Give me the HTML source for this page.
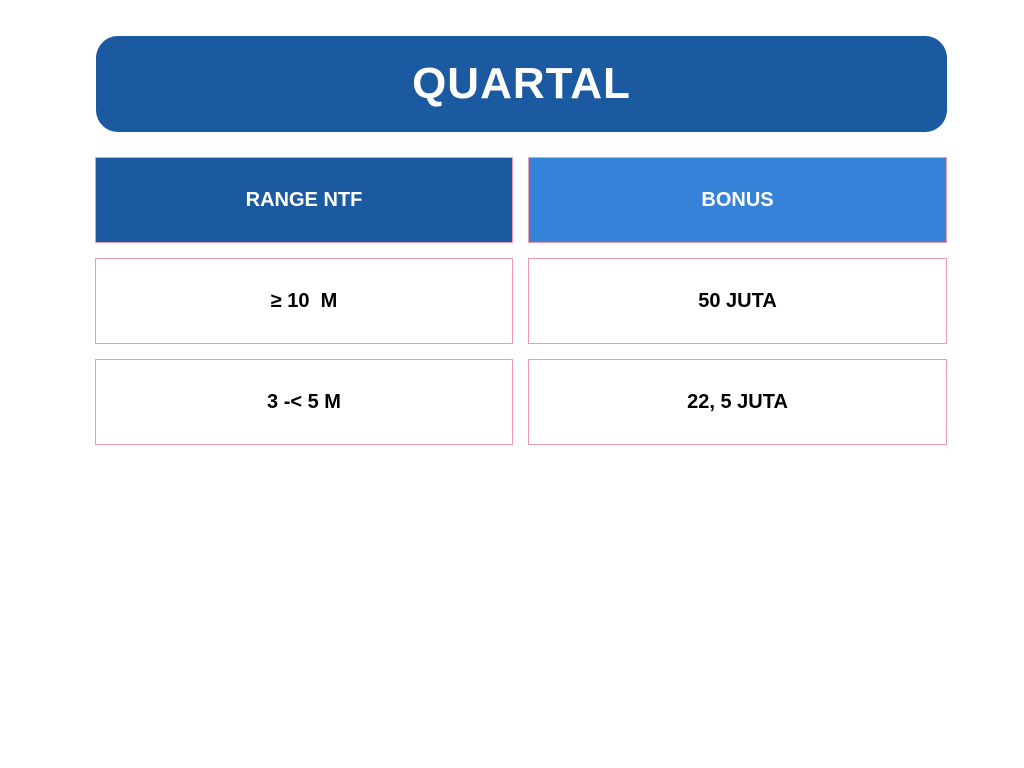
<!DOCTYPE html>
<html><head><meta charset="utf-8">
<style>
body{margin:0;width:1024px;height:768px;background:#fff;position:relative;font-family:"Liberation Sans",sans-serif;overflow:hidden}
.t{position:absolute;left:96px;top:36px;width:851px;height:96px;background:#1b5aa0;border-radius:22px;color:#fff;font-weight:bold;font-size:44px;display:flex;align-items:center;justify-content:center;letter-spacing:1px}
.c{position:absolute;box-sizing:border-box;border:1px solid #f29aaa;display:flex;align-items:center;justify-content:center;font-weight:bold;font-size:20px;color:#000}
.h{color:#fff}
</style></head><body>
<div class="t">QUARTAL</div>
<div class="c h" style="left:95px;top:157px;width:418px;height:86px;background:#1b5aa0">RANGE NTF</div>
<div class="c h" style="left:528px;top:157px;width:419px;height:86px;background:#3682d8">BONUS</div>
<div class="c" style="left:95px;top:258px;width:418px;height:86px">≥ 10&nbsp; M</div>
<div class="c" style="left:528px;top:258px;width:419px;height:86px">50 JUTA</div>
<div class="c" style="left:95px;top:359px;width:418px;height:86px">3 -&lt; 5 M</div>
<div class="c" style="left:528px;top:359px;width:419px;height:86px">22, 5 JUTA</div>
</body></html>
